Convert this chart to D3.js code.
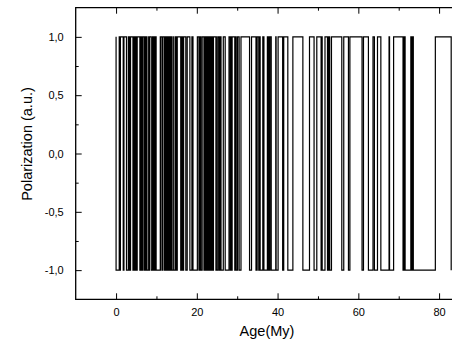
<!DOCTYPE html>
<html>
<head>
<meta charset="utf-8">
<script src="https://cdn.jsdelivr.net/npm/d3@7"></script>
<style>
  body { margin: 0; background: #fff; }
  svg { display: block; }
</style>
</head>
<body>
<script>
// normal polarity intervals (My), plotted at -1; reversed intervals in between at +1
const normalChrons = [
  [0.000, 0.780], [0.990, 1.070], [1.770, 1.950], [2.581, 3.040], [3.110, 3.220],
  [3.330, 3.580], [4.180, 4.290], [4.480, 4.620], [4.800, 4.890], [4.980, 5.230],
  [5.894, 6.137], [6.269, 6.567], [6.935, 7.091], [7.135, 7.170], [7.341, 7.375],
  [7.432, 7.562], [7.650, 8.072], [8.225, 8.257], [8.699, 9.025], [9.230, 9.308],
  [9.580, 9.642], [9.740, 9.880], [9.920, 10.949], [11.052, 11.099], [11.476, 11.531],
  [11.935, 12.078], [12.184, 12.401], [12.678, 12.708], [12.775, 12.819], [12.991, 13.139],
  [13.302, 13.510], [13.703, 14.076], [14.178, 14.612], [14.800, 14.888], [15.034, 15.155],
  [16.014, 16.293], [16.327, 16.488], [16.556, 16.726], [17.277, 17.615], [18.281, 18.781],
  [19.048, 20.131], [20.518, 20.725], [20.996, 21.320], [21.768, 21.859], [22.151, 22.248],
  [22.459, 22.493], [22.588, 22.750], [22.804, 23.069], [23.353, 23.535], [23.677, 23.800],
  [23.999, 24.118], [24.730, 24.781], [24.835, 25.183], [25.496, 25.648], [25.823, 25.951],
  [25.992, 26.554], [27.027, 27.972], [28.283, 28.512], [28.578, 28.745], [29.401, 29.662],
  [29.765, 30.098], [30.479, 30.939], [33.058, 33.545], [34.655, 34.940], [35.343, 35.526],
  [35.685, 36.341], [36.618, 37.473], [37.604, 37.848], [37.920, 38.113], [38.426, 39.552],
  [39.631, 40.130], [41.257, 41.521], [42.536, 43.789], [46.264, 47.906], [49.037, 49.714],
  [50.778, 50.946], [51.047, 51.743], [52.364, 52.663], [52.757, 52.801], [52.903, 53.347],
  [55.904, 56.391], [57.554, 57.911], [60.920, 61.276], [62.499, 63.634], [63.976, 64.745],
  [65.578, 67.610], [67.735, 68.737], [71.071, 71.338], [71.587, 73.004], [73.291, 73.374],
  [73.619, 79.075]
];
const lastReversal = 83.0;

const xTicks = [0, 20, 40, 60, 80];
const xMinor = [10, 30, 50, 70];
const yTicks = [-1, -0.5, 0, 0.5, 1];
const yMinor = [-0.75, -0.25, 0.25, 0.75];

const chartW = 452, chartH = 342;
const plot = { left: 75.7, right: 452, top: 7.7, bottom: 299.3 };

// step line points
const pts = [[0, 1]];
normalChrons.forEach(([a, b]) => {
  pts.push([a, 1], [a, -1], [b, -1], [b, 1]);
});
pts.push([lastReversal, 1], [lastReversal, -1]);

const x = d3.scaleLinear().domain([-10, 83.2]).range([plot.left, plot.right]);
const y = d3.scaleLinear().domain([-1.25, 1.25]).range([plot.bottom, plot.top]);

const svg = d3.select("body").append("svg")
  .attr("width", chartW)
  .attr("height", chartH)
  .style("font-family", "'Liberation Sans', Arial, sans-serif");

svg.append("defs").append("clipPath").attr("id", "clip")
  .append("rect")
  .attr("x", plot.left).attr("y", plot.top)
  .attr("width", plot.right - plot.left).attr("height", plot.bottom - plot.top);

const line = d3.line().x(d => x(d[0])).y(d => y(d[1]));

svg.append("path")
  .datum(pts)
  .attr("clip-path", "url(#clip)")
  .attr("fill", "none")
  .attr("stroke", "#000")
  .attr("stroke-width", 1.2)
  .attr("d", line);

const fmt = d => d3.format(".1f")(d).replace(".", ",").replace("−", "-");

// bottom axis (ticks inward)
svg.append("g")
  .attr("transform", `translate(0,${plot.bottom})`)
  .call(d3.axisBottom(x).tickValues(xTicks).tickSize(-6).tickPadding(9).tickSizeOuter(0))
  .call(g => g.select(".domain").remove());
svg.append("g")
  .attr("transform", `translate(0,${plot.bottom})`)
  .call(d3.axisBottom(x).tickValues(xMinor).tickSize(-3).tickFormat("").tickSizeOuter(0))
  .call(g => g.select(".domain").remove());

// top axis mirrors ticks
svg.append("g")
  .attr("transform", `translate(0,${plot.top})`)
  .call(d3.axisTop(x).tickValues(xTicks).tickSize(-6).tickFormat("").tickSizeOuter(0))
  .call(g => g.select(".domain").remove());
svg.append("g")
  .attr("transform", `translate(0,${plot.top})`)
  .call(d3.axisTop(x).tickValues(xMinor).tickSize(-3).tickFormat("").tickSizeOuter(0))
  .call(g => g.select(".domain").remove());

// left axis
svg.append("g")
  .attr("transform", `translate(${plot.left},0)`)
  .call(d3.axisLeft(y).tickValues(yTicks).tickSize(-6).tickPadding(12).tickFormat(fmt).tickSizeOuter(0))
  .call(g => g.select(".domain").remove());
svg.append("g")
  .attr("transform", `translate(${plot.left},0)`)
  .call(d3.axisLeft(y).tickValues(yMinor).tickSize(-3).tickFormat("").tickSizeOuter(0))
  .call(g => g.select(".domain").remove());

svg.selectAll(".tick text").attr("font-size", 11).attr("fill", "#000").attr("font-family", null);
svg.selectAll(".tick line").attr("stroke", "#000");

// frame lines
svg.append("path")
  .attr("fill", "none")
  .attr("stroke", "#000")
  .attr("stroke-width", 1.3)
  .attr("d", `M${plot.right + 2},${plot.top}H${plot.left}V${plot.bottom}H${plot.right + 2}`);

// axis titles
svg.append("text")
  .attr("x", 267)
  .attr("y", 336)
  .attr("text-anchor", "middle")
  .attr("font-size", 14.5)
  .text("Age(My)");

svg.append("text")
  .attr("transform", "translate(32,144) rotate(-90)")
  .attr("text-anchor", "middle")
  .attr("font-size", 14.5)
  .text("Polarization (a.u.)");
</script>
</body>
</html>
